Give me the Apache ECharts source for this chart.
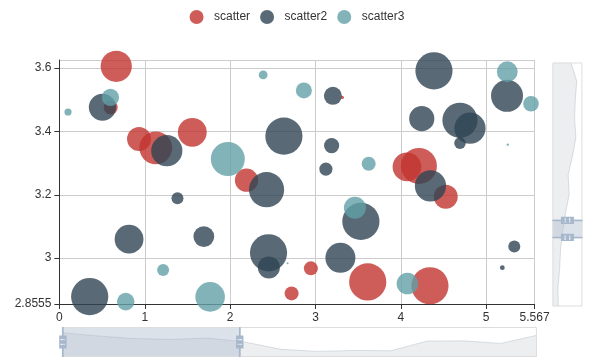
<!DOCTYPE html>
<html>
<head>
<meta charset="utf-8">
<script src="https://cdn.jsdelivr.net/npm/echarts@6/dist/echarts.min.js"></script>
<style>html,body{margin:0;padding:0;background:#fff}#main{width:594px;height:364px}</style>
</head>
<body>
<div id="main"></div>
<script>
// [x, y, relative size]
const scatterData = [
  [0.666, 3.605, 0.78], [0.601, 3.475, 0.35], [0.933, 3.376, 0.60], [1.129, 3.348, 0.82],
  [1.557, 3.397, 0.72], [2.192, 3.246, 0.58], [2.946, 2.968, 0.35], [2.720, 2.889, 0.35],
  [3.612, 2.925, 0.93], [4.341, 2.913, 0.93], [4.072, 3.288, 0.72], [4.212, 3.291, 0.90],
  [4.526, 3.194, 0.60], [3.315, 3.507, 0.08]
];
const scatter2Data = [
  [0.504, 3.476, 0.68], [1.258, 3.339, 0.78], [1.383, 3.189, 0.30], [0.816, 3.060, 0.72],
  [0.355, 2.879, 0.93], [1.692, 3.068, 0.52], [2.427, 3.216, 0.88], [2.630, 3.385, 0.93],
  [2.450, 3.017, 0.93], [2.454, 2.971, 0.55], [3.204, 3.512, 0.45], [3.189, 3.355, 0.38],
  [3.122, 3.281, 0.33], [3.292, 3.001, 0.75], [3.532, 3.116, 0.93], [4.388, 3.591, 0.93],
  [4.245, 3.440, 0.63], [4.693, 3.435, 0.88], [4.810, 3.410, 0.78], [4.693, 3.363, 0.29],
  [5.244, 3.512, 0.80], [4.347, 3.228, 0.78], [5.329, 3.037, 0.30], [5.189, 2.970, 0.12]
];
const scatter3Data = [
  [0.101, 3.461, 0.18], [0.598, 3.507, 0.43], [0.777, 2.863, 0.44], [1.215, 2.963, 0.30],
  [1.766, 2.878, 0.74], [1.973, 3.313, 0.85], [2.387, 3.578, 0.22], [2.864, 3.529, 0.40],
  [3.623, 3.298, 0.35], [3.462, 3.159, 0.55], [4.077, 2.920, 0.54], [5.247, 3.588, 0.52],
  [5.525, 3.487, 0.39], [2.673, 2.984, 0.05], [5.252, 3.358, 0.06]
];
const seriesNames = ['scatter', 'scatter2', 'scatter3'];
const colors = ['#c23531', '#2f4554', '#61a0a8'];
const xFull = [0, 14.79];
const yFull = [0.1, 9.98];
const xWindow = [0, 5.567];
const yWindow = [2.8555, 3.625];

const FONT = 'Liberation Sans, Arial, sans-serif';
const handleIcon = 'path://M8.2,13.6V3.9H6.3v9.7H3.1v14.9h3.3v9.7h1.8v-9.7h3.3V13.6H8.2z M9.7,24.4H4.8v-1.4h4.9V24.4z M9.7,19.1H4.8v-1.4h4.9V19.1z';
const dataBg = {
  lineStyle: { color: '#2f4554', width: 0.5, opacity: 0.3 },
  areaStyle: { color: 'rgba(47,69,84,0.3)', opacity: 0.3 }
};
const sliderCommon = {
  type: 'slider',
  show: true,
  backgroundColor: 'rgba(47,69,84,0)',
  borderColor: '#ddd',
  borderRadius: 0,
  fillerColor: 'rgba(167,183,203,0.4)',
  dataBackground: dataBg,
  selectedDataBackground: dataBg,
  handleIcon: handleIcon,
  handleSize: '100%',
  handleStyle: { color: '#a7b7cc', borderWidth: 0 },
  moveHandleSize: 0,
  moveHandleStyle: { opacity: 0 },
  brushSelect: false,
  showDetail: false,
  filterMode: 'filter'
};

const chart = echarts.init(document.getElementById('main'), null, { renderer: 'canvas' });
const axisCommon = {
  type: 'value',
  axisLine: { show: true, lineStyle: { color: '#333' } },
  axisTick: { show: true, lineStyle: { color: '#333' } },
  axisLabel: { color: '#333', fontSize: 12, fontFamily: FONT, margin: 8 },
  splitLine: { show: true, lineStyle: { color: '#ccc' } }
};
chart.setOption({
  animation: false,
  color: colors,
  textStyle: { fontFamily: FONT },
  legend: {
    data: seriesNames,
    top: 5,
    itemWidth: 25, itemHeight: 14, itemGap: 10,
    icon: 'circle',
    textStyle: { color: '#333', fontSize: 12, fontFamily: FONT }
  },
  grid: { left: 59.4, right: 59.4, top: 60, bottom: 60, containLabel: false, outerBoundsMode: 'none' },
  xAxis: Object.assign({}, axisCommon, { min: xFull[0], max: xFull[1] }),
  yAxis: Object.assign({}, axisCommon, { min: yFull[0], max: yFull[1] }),
  dataZoom: [
    Object.assign({}, sliderCommon, { xAxisIndex: [0], startValue: xWindow[0], endValue: xWindow[1], left: 59.4, right: 59.4, bottom: 7, height: 30 }),
    Object.assign({}, sliderCommon, { yAxisIndex: [0], startValue: yWindow[0], endValue: yWindow[1], left: '93%', top: 60, bottom: 60, width: 30, orient: 'vertical' }),
    { type: 'inside', xAxisIndex: [0], startValue: xWindow[0], endValue: xWindow[1] },
    { type: 'inside', yAxisIndex: [0], startValue: yWindow[0], endValue: yWindow[1] }
  ],
  series: [scatterData, scatter2Data, scatter3Data].map(function (d, i) {
    return {
      name: seriesNames[i],
      type: 'scatter',
      itemStyle: { opacity: 0.8 },
      symbolSize: function (val) { return val[2] * 40; },
      data: d
    };
  })
});
</script>
</body>
</html>
